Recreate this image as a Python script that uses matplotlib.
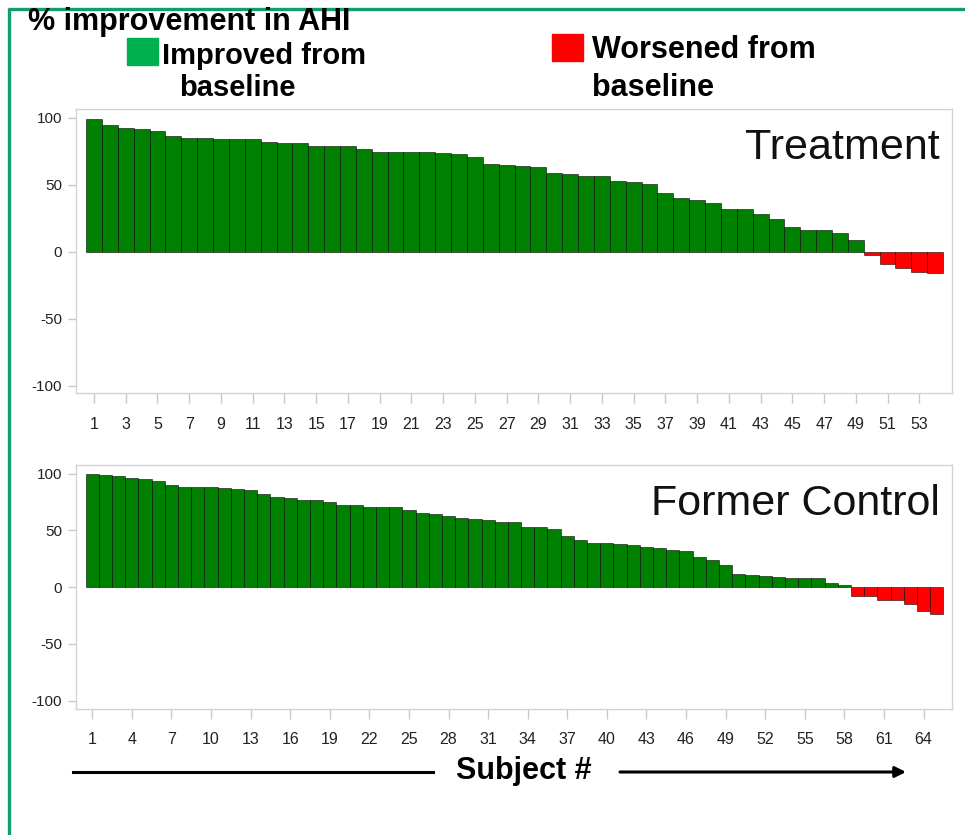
import matplotlib
matplotlib.use("Agg")
import matplotlib.pyplot as plt
from matplotlib.patches import Rectangle

plt.rcParams["font.family"] = ["Liberation Sans", "DejaVu Sans"]
plt.rcParams["axes.unicode_minus"] = False

# % improvement in AHI per subject, sorted high to low
treatment = [98.8, 94.5, 92.5, 91.3, 89.8, 86.1, 84.8, 84.8, 84.1, 83.8,
             83.8, 81.6, 81.3, 80.8, 79.1, 79.1, 79.1, 76.9, 74.4, 74.4,
             74.4, 74.4, 73.4, 73.1, 70.9, 65.2, 64.7, 63.9, 62.9, 59.0,
             58.0, 56.7, 56.7, 53.0, 51.7, 50.5, 43.5, 39.8, 38.6, 36.6,
             31.6, 31.6, 28.1, 24.4, 18.7, 16.2, 16.2, 13.9, 9.0,
             -2.5, -9.2, -12.4, -14.9, -16.2]
former_control = [99.4, 98.5, 98.0, 96.2, 95.6, 93.8, 89.7, 88.6, 88.3, 88.3,
                  87.7, 86.8, 85.9, 82.4, 79.5, 78.3, 77.1, 76.5, 75.1, 72.7,
                  72.4, 71.0, 70.7, 70.7, 68.3, 65.4, 64.5, 63.0, 61.3, 60.4,
                  59.0, 57.8, 57.5, 53.1, 52.8, 51.3, 45.5, 41.3, 39.3, 38.7,
                  38.1, 37.0, 35.2, 34.6, 33.1, 32.0, 26.4, 24.3, 19.6, 11.4,
                  10.9, 10.0, 8.8, 7.9, 7.9, 7.9, 3.6, 2.2,
                  -7.8, -7.8, -10.9, -10.9, -14.5, -20.9, -23.5]
panel_names = ["Treatment", "Former Control"]
tick_steps = [2, 3]
y_ticks = [100, 50, 0, -50, -100]

GREEN = "#008000"
RED = "#ff0000"
W, H = 965, 835

fig = plt.figure(figsize=(W / 100, H / 100), dpi=100)


def px_axes(left, top, right, bottom):
    return fig.add_axes([left / W, 1 - bottom / H, (right - left) / W, (bottom - top) / H])


def draw_panel(ax, values, name, step, xlim, ylim, label_y, pad):
    subjects = list(range(1, len(values) + 1))
    colors = [GREEN if v >= 0 else RED for v in values]
    ax.bar(subjects, values, width=1.0, color=colors,
           edgecolor=(0, 0, 0, 0.55), linewidth=0.7)
    ax.set_xlim(*xlim)
    ax.set_ylim(*ylim)
    ax.set_xticks(subjects[::step])
    ax.set_yticks(y_ticks)
    ax.set_yticklabels([str(t) for t in y_ticks])
    for sp in ax.spines.values():
        sp.set_color("#d2d2d2")
        sp.set_linewidth(1.0)
    ax.tick_params(axis="x", length=7, width=1, color="#c8c8c8",
                   labelsize=11.5, labelcolor="#222222", pad=pad)
    ax.tick_params(axis="y", length=6, width=1, color="#c8c8c8",
                   labelsize=11, labelcolor="#222222", pad=4)
    ax.text(0.986, label_y, name, transform=ax.transAxes, ha="right",
            va="baseline", fontsize=31, color="#111111")


ax_top = px_axes(76, 109, 952, 393)
draw_panel(ax_top, treatment, panel_names[0], tick_steps[0],
           (-0.134, 55.06), (-105.4, 106.5), 0.824, 10)

ax_bot = px_axes(76, 465, 952, 709)
draw_panel(ax_bot, former_control, panel_names[1], tick_steps[1],
           (-0.236, 66.16), (-107.3, 107.6), 0.794, 9.4)

# overlay in pixel coordinates for headings, legend and the axis arrow
ov = fig.add_axes([0, 0, 1, 1], zorder=-1)
ov.set_xlim(0, W)
ov.set_ylim(H, 0)
ov.axis("off")

border = "#129c72"
ov.plot([9, 9], [8, H], color=border, lw=2.4, solid_capstyle="butt")
ov.plot([8, W], [9, 9], color=border, lw=2.4, solid_capstyle="butt")

ov.text(28, 30, "% improvement in AHI", fontsize=22, fontweight="bold",
        ha="left", va="baseline")

ov.add_patch(Rectangle((127, 38), 31, 27, color="#00b050", zorder=3))
ov.text(162, 64, "Improved from", fontsize=21, fontweight="bold",
        ha="left", va="baseline")
ov.text(179, 96, "baseline", fontsize=21, fontweight="bold",
        ha="left", va="baseline")

ov.add_patch(Rectangle((552, 34), 31, 27, color=RED, zorder=3))
ov.text(592, 58, "Worsened from", fontsize=22, fontweight="bold",
        ha="left", va="baseline")
ov.text(592, 96, "baseline", fontsize=22, fontweight="bold",
        ha="left", va="baseline")

ov.plot([73, 433], [772, 772], color="black", lw=2.2)
ov.annotate("", xy=(906, 772), xytext=(620, 772),
            arrowprops=dict(arrowstyle="-|>", lw=2.2, color="black",
                            mutation_scale=16, shrinkA=0, shrinkB=0))
ov.text(524, 771, "Subject #", fontsize=22, fontweight="bold",
        ha="center", va="center")

fig.savefig("out.png", dpi=100, facecolor="white")
